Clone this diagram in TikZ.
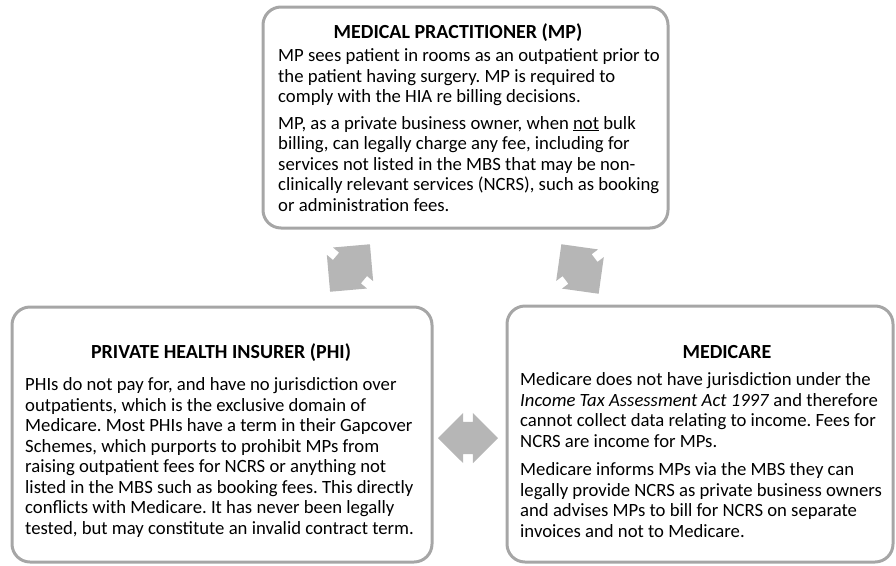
\documentclass[tikz,border=0pt]{standalone}
\usepackage{fontspec}
\setmainfont{Carlito}
\frenchspacing
\usetikzlibrary{shapes.arrows}

\definecolor{boxgray}{RGB}{166,166,166}
\definecolor{arrowgray}{RGB}{182,182,182}

\tikzset{
  panel/.style={draw=boxgray,line width=3pt,rounded corners=18pt,inner sep=0pt},
  heading/.style={font=\fontsize{20}{22}\selectfont\bfseries,anchor=base,inner sep=0pt},
  body/.style={font=\fontsize{18.7}{20.5}\selectfont,align=left,anchor=base west,inner sep=0pt},
  link/.style={double arrow,fill=arrowgray,double arrow head extend=8pt,
    minimum height=62pt,minimum width=52pt,inner xsep=0pt,inner ysep=18pt}
}

\begin{document}
\begin{tikzpicture}[x=1pt,y=-1pt]
  \useasboundingbox (0,0) rectangle (896,565);

  \node[panel,minimum width=405pt,minimum height=221pt] (mp) at (465.5,117.5) {};
  \node[panel,minimum width=420pt,minimum height=255pt] (phi) at (222,434.5) {};
  \node[panel,minimum width=386pt,minimum height=256pt] (mc) at (700,434) {};

  \node[heading] (mp head) at (458,38) {MEDICAL PRACTITIONER (MP)};
  \node[heading] (phi head) at (221,358) {PRIVATE HEALTH INSURER (PHI)};
  \node[heading] (mc head) at (727,358) {MEDICARE};

  % base anchor of a multi-line node sits on its last line
  \node[body] (mp text) at (278,211) {MP sees patient in rooms as an outpatient prior to\\
    the patient having surgery. MP is required to\\
    comply with the HIA re billing decisions.\\[6pt]
    MP, as a private business owner, when \underline{not} bulk\\
    billing, can legally charge any fee, including for\\
    services not listed in the MBS that may be non-\\
    clinically relevant services (NCRS), such as booking\\
    or administration fees.};

  \node[body] (phi text) at (25,534) {PHIs do not pay for, and have no jurisdiction over\\
    outpatients, which is the exclusive domain of\\
    Medicare. Most PHIs have a term in their Gapcover\\
    Schemes, which purports to prohibit MPs from\\
    raising outpatient fees for NCRS or anything not\\
    listed in the MBS such as booking fees. This directly\\
    conflicts with Medicare. It has never been legally\\
    tested, but may constitute an invalid contract term.};

  \node[body] (mc text) at (520,537) {Medicare does not have jurisdiction under the\\
    \textit{Income Tax Assessment Act 1997} and therefore\\
    cannot collect data relating to income. Fees for\\
    NCRS are income for MPs.\\[8pt]
    Medicare informs MPs via the MBS they can\\
    legally provide NCRS as private business owners\\
    and advises MPs to bill for NCRS on separate\\
    invoices and not to Medicare.};

  \node[link,rotate=50] (mp phi) at (350,268) {};
  \node[link,rotate=-53] (mp mc) at (580,269) {};
  \node[link,minimum height=60pt,minimum width=50pt,inner ysep=16pt,double arrow head extend=9pt] (phi mc) at (468,438) {};
\end{tikzpicture}
\end{document}
